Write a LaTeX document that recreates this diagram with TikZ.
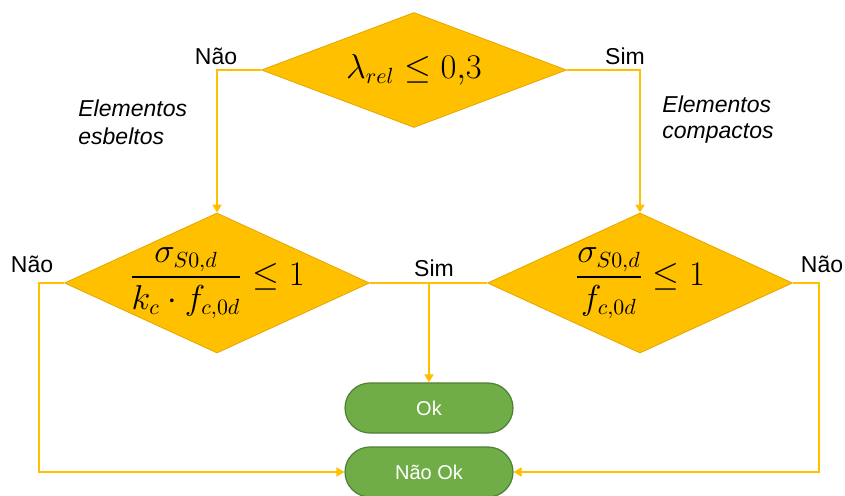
\documentclass[tikz,border=0pt]{standalone}
\usepackage{amsmath}
\usepackage{fontspec}
\setmainfont{Liberation Sans}
\usepackage{xcolor}
\usetikzlibrary{positioning,arrows.meta,shapes.geometric}
\definecolor{ouro}{HTML}{FFC000}
\definecolor{ourob}{HTML}{E3A600}
\definecolor{verde}{HTML}{70AD47}
\definecolor{verdeb}{HTML}{507E32}

\begin{document}
\begin{tikzpicture}[x=0.5pt,y=-0.5pt,
  decisao/.style={diamond,aspect=2.4,fill=ouro,draw=ourob,line width=0.4pt,
    inner sep=0pt,minimum width=152.5pt,minimum height=70pt},
  formula/.style={font=\fontsize{16}{19}\selectfont,inner sep=0pt},
  fim/.style={rectangle,rounded corners=12.5pt,fill=verde,draw=verdeb,
    line width=0.6pt,minimum width=84pt,minimum height=25pt,text=white,
    font=\fontsize{10}{12}\selectfont},
  rotulo/.style={font=\fontsize{11.5}{13.5}\selectfont,anchor=base,inner sep=0pt},
  nota/.style={font=\fontsize{11.5}{13.5}\selectfont\itshape,align=left,
    anchor=base west,inner sep=0pt},
  fluxo/.style={draw=ouro,line width=1pt},
  seta/.style={fluxo,-{Triangle[width=4.5pt,length=4pt]}}]
  \useasboundingbox (0,0) rectangle (845,496);
  % decisoes
  \node[decisao,minimum height=57.5pt,
    label={[formula]center:$\lambda_{rel}\leq 0{,}3$}] (topo) at (414,70) {};
  \node[decisao,
    label={[formula]center:$\dfrac{\sigma_{S0,d}}{k_c\cdot f_{c,0d}}\leq 1$}] (esb) at (217,283) {};
  \node[decisao,
    label={[formula]center:$\dfrac{\sigma_{S0,d}}{f_{c,0d}}\leq 1$}] (comp) at (640,283) {};
  % resultados
  \node[fim] (ok) at (429,408) {Ok};
  \node[fim] (naook) at (429,472) {Não Ok};
  % ligacoes
  \draw[seta] (topo.west) -| (esb.north);
  \draw[seta] (topo.east) -| (comp.north);
  \draw[seta] (esb.west) -- ++(-25,0) |- (naook.west);
  \draw[fluxo] (esb.east) -- (comp.west);
  \coordinate (ramo) at (ok.north |- esb.east);
  \draw[seta] (ramo) -- (ok.north);
  \draw[seta] (comp.east) -- ++(26,0) |- (naook.east);
  % rotulos
  \node[rotulo] (nao1) at (216,65) {Não};
  \node[rotulo] (sim1) at (625,65) {Sim};
  \node[rotulo] (nao2) at (32,273) {Não};
  \node[rotulo] (sim2) at (434,277) {Sim};
  \node[rotulo] (nao3) at (822,273) {Não};
  \node[nota] (esbeltos) at (78,145) {Elementos\\[0.5pt]esbeltos};
  \node[nota] (compactos) at (662,139) {Elementos\\[-0.5pt]compactos};
\end{tikzpicture}
\end{document}
